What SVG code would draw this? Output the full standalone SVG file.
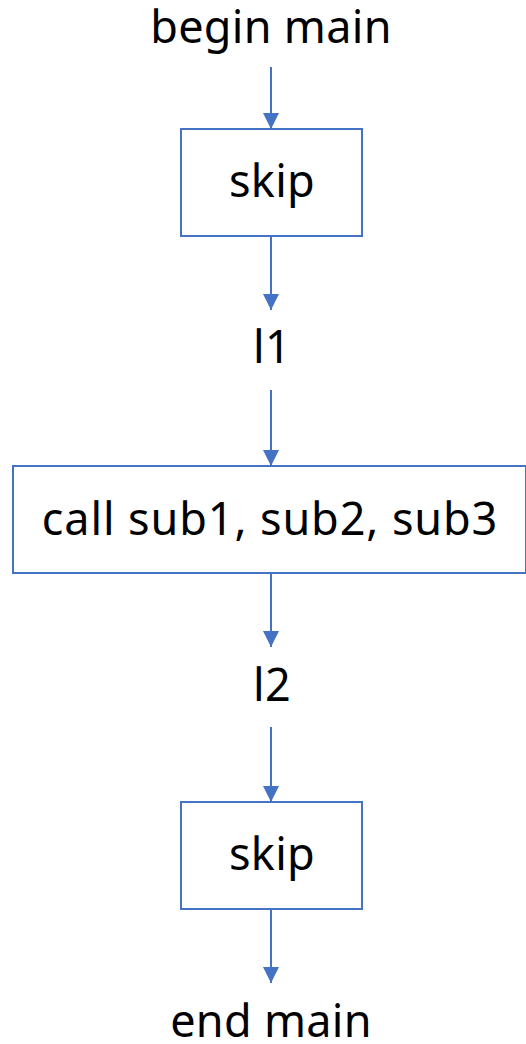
<svg xmlns="http://www.w3.org/2000/svg" width="526" height="1044" viewBox="0 0 526 1044">
  <defs>
    <marker id="arrow" markerWidth="8" markerHeight="8" refX="8" refY="4" orient="auto" markerUnits="strokeWidth">
      <path d="M0,0 L8,4 L0,8 Z" fill="#4472C4"/>
    </marker>
    <style>
      .box { fill: #FFFFFF; stroke: #4472C4; stroke-width: 2; }
      .label { font-family: "Noto Sans", "Noto Sans CJK JP", sans-serif; font-size: 45px; fill: #000000; text-anchor: middle; letter-spacing: 0.3px; }
      .wide { letter-spacing: 0.9px; }
      .edge { stroke: #4472C4; stroke-width: 2; fill: none; marker-end: url(#arrow); }
    </style>
  </defs>
  <rect width="526" height="1044" fill="#FFFFFF"/>

  <g id="begin-main">
    <text class="label" x="271" y="43">begin main</text>
  </g>
  <g id="skip-1">
    <rect class="box" x="181" y="129" width="181" height="107"/>
    <text class="label" x="272" y="197">skip</text>
  </g>
  <g id="l1">
    <text class="label" x="272" y="363">l1</text>
  </g>
  <g id="call-subs">
    <rect class="box" x="13" y="466" width="513" height="107"/>
    <text class="label wide" x="270" y="535">call sub1, sub2, sub3</text>
  </g>
  <g id="l2">
    <text class="label" x="272" y="701">l2</text>
  </g>
  <g id="skip-2">
    <rect class="box" x="181" y="802" width="181" height="107"/>
    <text class="label" x="272" y="870">skip</text>
  </g>
  <g id="end-main">
    <text class="label" x="271" y="1037">end main</text>
  </g>

  <g id="connectors">
    <line class="edge" x1="271" y1="67" x2="271" y2="129"/>
    <line class="edge" x1="271" y1="236" x2="271" y2="310"/>
    <line class="edge" x1="271" y1="390" x2="271" y2="466"/>
    <line class="edge" x1="271" y1="573" x2="271" y2="647"/>
    <line class="edge" x1="271" y1="727" x2="271" y2="802"/>
    <line class="edge" x1="271" y1="909" x2="271" y2="983"/>
  </g>
</svg>
